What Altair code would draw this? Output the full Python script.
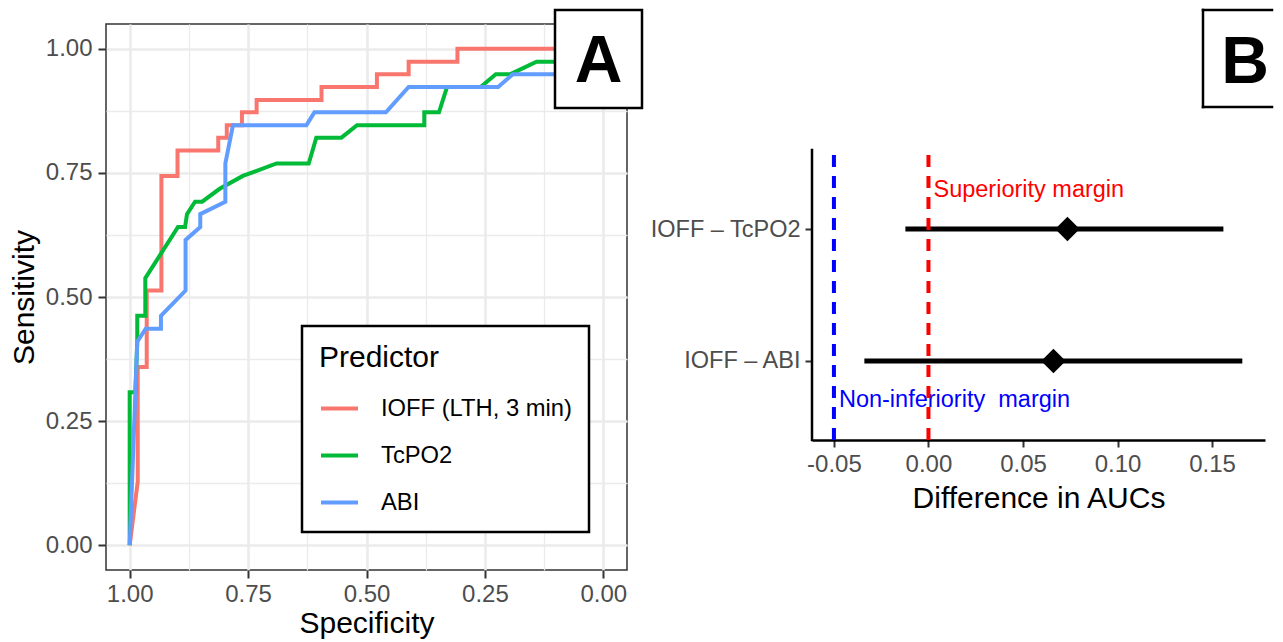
import altair as alt
import pandas as pd

FONT = "Liberation Sans"

# ---------------- Panel A: ROC curves ----------------
predictors = ["IOFF (LTH, 3 min)", "TcPO2", "ABI"]
colors = ["#F8766D", "#00BA38", "#619CFF"]

ioff_spec = [1.000, 0.983, 0.983, 0.964, 0.964, 0.933, 0.933, 0.899, 0.899, 0.813, 0.813, 0.795, 0.795,
             0.763, 0.763, 0.732, 0.732, 0.595, 0.595, 0.478, 0.478, 0.411, 0.411, 0.308, 0.308, 0.000]
ioff_sens = [0.000, 0.128, 0.359, 0.359, 0.513, 0.513, 0.744, 0.744, 0.795, 0.795, 0.821, 0.821, 0.846,
             0.846, 0.872, 0.872, 0.897, 0.897, 0.923, 0.923, 0.949, 0.949, 0.974, 0.974, 1.000, 1.000]

tcpo2_spec = [1.000, 1.000, 0.988, 0.984, 0.984, 0.967, 0.967, 0.898, 0.883, 0.879, 0.862, 0.847, 0.810,
              0.761, 0.690, 0.622, 0.606, 0.553, 0.520, 0.378, 0.378, 0.347, 0.330, 0.259, 0.227, 0.196,
              0.141, 0.100, 0.060, 0.000]
tcpo2_sens = [0.000, 0.308, 0.308, 0.410, 0.462, 0.462, 0.538, 0.641, 0.641, 0.667, 0.692, 0.692, 0.718,
              0.744, 0.769, 0.769, 0.821, 0.821, 0.846, 0.846, 0.872, 0.872, 0.923, 0.923, 0.949, 0.949,
              0.974, 0.974, 1.000, 1.000]

abi_spec = [1.000, 0.984, 0.966, 0.934, 0.934, 0.882, 0.882, 0.851, 0.851, 0.798, 0.798, 0.782, 0.627,
            0.610, 0.459, 0.411, 0.222, 0.191, 0.080, 0.040, 0.000]
abi_sens = [0.000, 0.410, 0.436, 0.436, 0.462, 0.513, 0.615, 0.641, 0.667, 0.692, 0.769, 0.846, 0.846,
            0.872, 0.872, 0.923, 0.923, 0.949, 0.949, 1.000, 1.000]

roc_ticks = [0.0, 0.125, 0.25, 0.375, 0.5, 0.625, 0.75, 0.875, 1.0]

# ---------------- Panel B: AUC differences ----------------
comparisons = ["IOFF – TcPO2", "IOFF – ABI"]
comp_slot = [2, 1]            # discrete slots (top, bottom)
auc_diff = [0.0735, 0.0661]
ci_low = [-0.0122, -0.0339]
ci_high = [0.1560, 0.1660]
diff_ticks = [-0.05, 0.0, 0.05, 0.10, 0.15]

margins = [-0.05, 0.0]
margin_colors = ["#0000FF", "#FF0000"]
margin_labels = ["Non-inferiority\u00a0 margin", "Superiority margin"]
margin_label_slot = [0.7, 2.3]
slot_extent = [0.4, 2.6]      # discrete axis extent (ggplot expansion 0.6)

# ---------------- build tables ----------------
rows = []
for name, sp, se in zip(predictors, [ioff_spec, tcpo2_spec, abi_spec], [ioff_sens, tcpo2_sens, abi_sens]):
    for i, (a, b) in enumerate(zip(sp, se)):
        rows.append({"Predictor": name, "spec": a, "sens": b, "idx": i})
roc = pd.DataFrame(rows)

comp_df = pd.DataFrame({"comparison": comparisons, "slot": comp_slot, "diff": auc_diff,
                        "lo": ci_low, "hi": ci_high})
marg_df = pd.DataFrame({"x": margins, "color": margin_colors, "label": margin_labels,
                        "slot": margin_label_slot})
dummy = pd.DataFrame({"label": ["A"]})
dummy_b = pd.DataFrame({"label": ["B"]})

W_A, H_A = 521, 546
W_B = 453
PX_PER_SLOT = 290 / 2.2
H_B = 416
y_top_b = slot_extent[0] + H_B / PX_PER_SLOT

minor = "round(datum.value * 8) % 2 == 1"


def roc_axis(title, label_pad, title_pad):
    return alt.Axis(
        values=roc_ticks,
        labelExpr=f"{minor} ? '' : format(datum.value, '.2f')",
        title=title,
        domain=False,
        grid=True,
        gridColor="#EBEBEB",
        gridWidth={"condition": {"test": minor, "value": 1.3}, "value": 2.6},
        tickSize=8,
        tickWidth=2,
        tickColor="#333333",
        tickOpacity={"condition": {"test": minor, "value": 0}, "value": 1},
        labelFontSize=24,
        labelColor="#4D4D4D",
        labelFont=FONT,
        labelPadding=label_pad,
        labelFlush=False,
        labelOverlap=False,
        titleFontSize=30,
        titleFontWeight="normal",
        titleColor="black",
        titleFont=FONT,
        titlePadding=title_pad,
    )


legend = alt.Legend(
    title="Predictor",
    orient="none",
    legendX=196,
    legendY=302,
    strokeColor="black",
    fillColor="white",
    padding=17,
    titleFontSize=30,
    titleFontWeight="normal",
    titleColor="black",
    titleFont=FONT,
    titlePadding=15,
    labelFontSize=23.75,
    labelColor="black",
    labelFont=FONT,
    labelLimit=400,
    symbolType="stroke",
    symbolSize=1369,
    symbolStrokeWidth=4,
    rowPadding=14,
    labelOffset=21,
)

lines = alt.Chart(roc).mark_line(strokeWidth=4).encode(
    x=alt.X("spec:Q", scale=alt.Scale(domain=[-0.05, 1.05], reverse=True, nice=False, zero=False),
            axis=roc_axis("Specificity", 4, 2)),
    y=alt.Y("sens:Q", scale=alt.Scale(domain=[-0.05, 1.05], nice=False, zero=False),
            axis=roc_axis("Sensitivity", 6, 6)),
    color=alt.Color("Predictor:N", scale=alt.Scale(domain=predictors, range=colors), legend=legend),
    order="idx:Q",
)

box_a = alt.Chart(dummy).mark_rect(fill="white", stroke="black", strokeWidth=2.5).encode(
    x=alt.value(449), x2=alt.value(536), y=alt.value(-14), y2=alt.value(84)
)
text_a = alt.Chart(dummy).mark_text(fontSize=66, fontWeight="bold", font=FONT, align="center",
                                    baseline="alphabetic", color="black").encode(
    x=alt.value(492.5), y=alt.value(58), text="label:N"
)

chart_a = alt.layer(lines, box_a, text_a).properties(
    width=W_A, height=H_A, view=alt.ViewBackground(stroke="#333333", strokeWidth=1.5)
)

# ---------------- panel B chart ----------------
xb_scale = alt.Scale(domain=[-0.0616, 0.178], nice=False, zero=False)
yb_scale = alt.Scale(domain=[slot_extent[0], y_top_b], nice=False, zero=False)

xb_axis = alt.Axis(
    values=diff_ticks,
    labelExpr="replace(format(datum.value, '.2f'), '\u2212', '-')",
    title="Difference in AUCs",
    grid=False,
    domainColor="black",
    domainWidth=2.5,
    tickColor="#333333",
    tickWidth=2,
    tickSize=7,
    labelFontSize=24,
    labelColor="#4D4D4D",
    labelFont=FONT,
    labelPadding=5,
    labelFlush=False,
    titleFontSize=30,
    titleFontWeight="normal",
    titleColor="black",
    titleFont=FONT,
    titlePadding=7,
)
label_expr_b = " : ".join(
    [f"datum.value == {s} ? '{c}'" for s, c in zip(comp_slot[:-1], comparisons[:-1])] + [f"'{comparisons[-1]}'"]
)
yb_axis = alt.Axis(
    values=comp_slot,
    labelExpr=label_expr_b,
    title=None,
    grid=False,
    domain=False,
    tickColor="#333333",
    tickWidth=2,
    tickSize=7,
    labelFontSize=23.5,
    labelColor="#4D4D4D",
    labelFont=FONT,
    labelPadding=5,
    labelFlush=False,
)

bars = alt.Chart(comp_df).mark_rule(strokeWidth=5, color="black").encode(
    x=alt.X("lo:Q", scale=xb_scale, axis=xb_axis),
    x2="hi:Q",
    y=alt.Y("slot:Q", scale=yb_scale, axis=yb_axis),
)
pts = alt.Chart(comp_df).mark_point(shape="diamond", filled=True, size=600, color="black", opacity=1).encode(
    x=alt.X("diff:Q", scale=xb_scale),
    y=alt.Y("slot:Q", scale=yb_scale),
)

y_line = alt.Chart(dummy_b).mark_rule(color="black", strokeWidth=2.5, strokeCap="square").encode(
    x=alt.value(0),
    y=alt.datum(slot_extent[0], scale=yb_scale),
    y2=alt.datum(slot_extent[1]),
)

txt = alt.Chart(marg_df).mark_text(align="left", baseline="middle", dx=5, fontSize=23.5, font=FONT).encode(
    x=alt.X("x:Q", scale=xb_scale),
    y=alt.Y("slot:Q", scale=yb_scale),
    text="label:N",
    color=alt.Color("color:N", scale=None),
)

vlines = alt.Chart(marg_df).mark_rule(strokeWidth=4, strokeDash=[12, 9]).encode(
    x=alt.X("x:Q", scale=xb_scale),
    color=alt.Color("color:N", scale=None),
    y=alt.datum(slot_extent[0], scale=yb_scale),
    y2=alt.datum(slot_extent[1]),
)

box_b = alt.Chart(dummy_b).mark_rect(fill="white").encode(
    x=alt.value(391), x2=alt.value(461), y=alt.value(-14), y2=alt.value(83)
)
rule_l = alt.Chart(dummy_b).mark_rule(color="black", strokeWidth=2.5, strokeCap="square").encode(
    x=alt.value(391), y=alt.value(-14), y2=alt.value(83)
)
rule_t = alt.Chart(dummy_b).mark_rule(color="black", strokeWidth=2.5, strokeCap="square").encode(
    x=alt.value(391), x2=alt.value(460), y=alt.value(-14)
)
rule_bm = alt.Chart(dummy_b).mark_rule(color="black", strokeWidth=2.5, strokeCap="square").encode(
    x=alt.value(391), x2=alt.value(460), y=alt.value(83)
)
text_b = alt.Chart(dummy_b).mark_text(fontSize=66, fontWeight="bold", font=FONT, align="center",
                                      baseline="alphabetic", color="black").encode(
    x=alt.value(433), y=alt.value(59), text="label:N"
)

chart_b = alt.layer(bars, pts, y_line, txt, vlines, box_b, rule_l, rule_t, rule_bm, text_b).properties(
    width=W_B, height=H_B, view=alt.ViewBackground(strokeWidth=0)
)

chart = alt.hconcat(chart_a, chart_b, spacing=5).properties(padding=0).configure(
    font=FONT, background="white"
).configure_view(strokeWidth=0).configure_legend(strokeWidth=2.5)

chart.save("out.html", embed_options={"renderer": "svg", "actions": False})
